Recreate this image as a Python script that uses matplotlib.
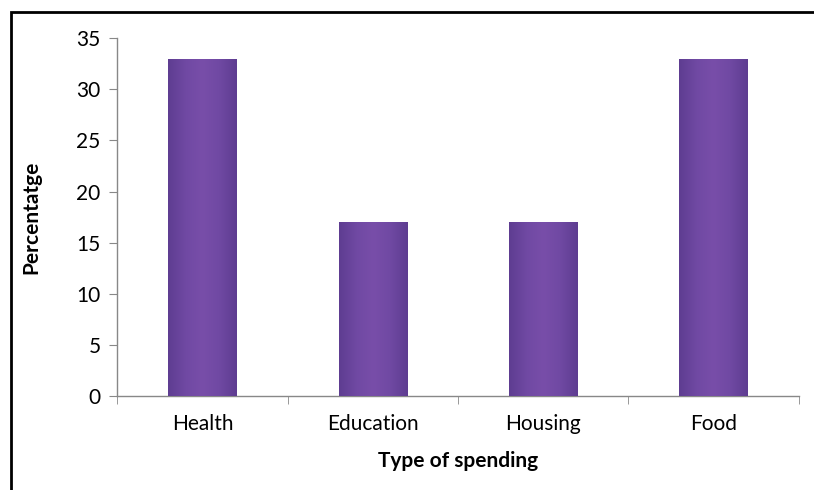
import numpy as np
import matplotlib.pyplot as plt
from matplotlib.colors import LinearSegmentedColormap
from matplotlib.patches import Rectangle

# data
categories = ["Health", "Education", "Housing", "Food"]
values = [33, 17, 17, 33]

plt.rcParams['font.family'] = ['Lato', 'DejaVu Sans']

fig = plt.figure(figsize=(8.14, 4.90), dpi=100)
ax = fig.add_axes([0.144, 0.192, 0.837, 0.730])

x = np.arange(len(categories))
bar_w = 0.4
bars = ax.bar(x, values, width=bar_w, color="#6c469f", zorder=2)

# horizontal shading inside each bar
cmap = LinearSegmentedColormap.from_list(
    "purp", ["#5e3d91", "#7049a3", "#784ea9", "#7049a3", "#5e3d91"])
grad = np.linspace(0, 1, 64).reshape(1, -1)
for b in bars:
    im = ax.imshow(grad, cmap=cmap, aspect="auto", zorder=3,
                   extent=[b.get_x(), b.get_x() + b.get_width(), 0, b.get_height()])
    im.set_clip_path(b)

ax.set_xlim(-0.5, len(categories) - 0.5)
ax.set_ylim(0, 35)
ax.set_yticks(range(0, 36, 5))
ax.set_xticks(x)
ax.set_xticklabels(categories)
ax.set_xticks(np.arange(-0.5, len(categories)), minor=True)

for s in ["top", "right"]:
    ax.spines[s].set_visible(False)
for s in ["left", "bottom"]:
    ax.spines[s].set_color("#888888")
    ax.spines[s].set_linewidth(1.0)

ax.tick_params(axis="y", length=6, color="#888888", labelsize=15, pad=6)
ax.tick_params(axis="x", which="major", length=0, labelsize=15, pad=13)
ax.tick_params(axis="x", which="minor", length=6, color="#888888")

ax.set_ylabel("Percentatge", fontsize=15, fontweight="bold", labelpad=25)
ax.set_xlabel("Type of spending", fontsize=15, fontweight="bold", labelpad=12)

# outer frame (only top and left edges visible)
fig.patches.append(Rectangle((11 / 814, -0.1), 1.2, 1 - 12.5 / 490 + 0.1,
                             transform=fig.transFigure, fill=False,
                             edgecolor="black", linewidth=2))

fig.savefig("out.png", dpi=100)
